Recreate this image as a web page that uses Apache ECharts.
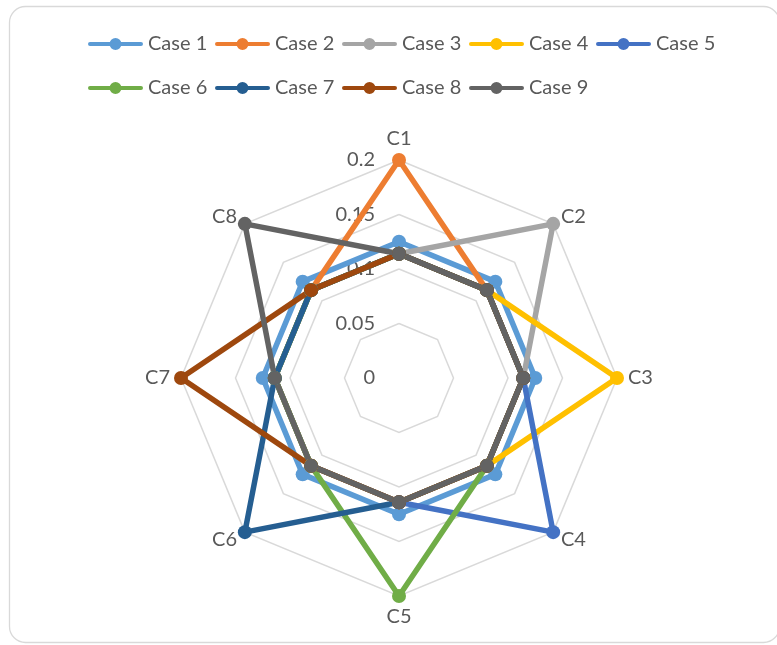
<!DOCTYPE html>
<html>
<head>
<meta charset="utf-8">
<script src="https://cdn.jsdelivr.net/npm/echarts@6/dist/echarts.min.js"></script>
<style>
  html, body { margin: 0; padding: 0; background: #fff; }
  #main { width: 777px; height: 645px; }
</style>
</head>
<body>
<div id="main"></div>
<script>
// axes, clockwise from the top
var categories = ['C1', 'C2', 'C3', 'C4', 'C5', 'C6', 'C7', 'C8']
var caseNames = ['Case 1', 'Case 2', 'Case 3', 'Case 4', 'Case 5', 'Case 6', 'Case 7', 'Case 8', 'Case 9']
var tickValues = [0, 0.05, 0.1, 0.15, 0.2]

var case1 = [0.125, 0.125, 0.125, 0.125, 0.125, 0.125, 0.125, 0.125]
var case2 = [0.2, 0.114, 0.114, 0.114, 0.114, 0.114, 0.114, 0.114]
var case3 = [0.114, 0.2, 0.114, 0.114, 0.114, 0.114, 0.114, 0.114]
var case4 = [0.114, 0.114, 0.2, 0.114, 0.114, 0.114, 0.114, 0.114]
var case5 = [0.114, 0.114, 0.114, 0.2, 0.114, 0.114, 0.114, 0.114]
var case6 = [0.114, 0.114, 0.114, 0.114, 0.2, 0.114, 0.114, 0.114]
var case7 = [0.114, 0.114, 0.114, 0.114, 0.114, 0.2, 0.114, 0.114]
var case8 = [0.114, 0.114, 0.114, 0.114, 0.114, 0.114, 0.2, 0.114]
var case9 = [0.114, 0.114, 0.114, 0.114, 0.114, 0.114, 0.114, 0.2]

var caseValues = [case1, case2, case3, case4, case5, case6, case7, case8, case9]
var colors = ['#5B9BD5', '#ED7D31', '#A5A5A5', '#FFC000', '#4472C4', '#70AD47', '#255E91', '#9E480E', '#636363']

// echarts lays radar axes out counter-clockwise, so walk the list backwards after C1
var order = [0, 7, 6, 5, 4, 3, 2, 1]
var font = 'Lato, "Open Sans", sans-serif'
var maxVal = tickValues[tickValues.length - 1]

// legend marker: line with a dot in the middle
var lineDotIcon = 'path://M2 4H53A2 2 0 0 1 53 8H2A2 2 0 0 1 2 4Z' +
  'M21.5 6A6 6 0 1 1 33.5 6A6 6 0 1 1 21.5 6Z'

var myChart = echarts.init(document.getElementById('main'))

var option = {
  backgroundColor: '#fff',
  color: colors,
  textStyle: { fontFamily: font },
  graphic: [
    {
      type: 'rect',
      shape: { x: 9.5, y: 6.5, width: 770, height: 636, r: 16 },
      style: { fill: 'none', stroke: '#d9d9d9', lineWidth: 1.3 },
      silent: true,
      z: -10
    }
  ],
  legend: {
    data: caseNames,
    left: 88,
    top: 24,
    width: 640,
    padding: 0,
    itemGap: 4,
    itemWidth: 55,
    itemHeight: 12,
    icon: lineDotIcon,
    textStyle: {
      color: '#595959',
      fontSize: 20,
      fontFamily: font,
      width: 63,
      lineHeight: 40
    }
  },
  radar: {
    center: [399, 378],
    radius: 218,
    startAngle: 90,
    splitNumber: tickValues.length - 1,
    shape: 'polygon',
    indicator: order.map(function (i, k) {
      var ind = { name: categories[i], min: 0, max: maxVal }
      if (k === 0) {
        ind.axisLabel = { show: true }
      }
      return ind
    }),
    axisName: {
      color: '#595959',
      fontSize: 20,
      fontFamily: font
    },
    nameGap: 11,
    axisLine: { show: false },
    axisTick: { show: false },
    axisLabel: {
      show: false,
      color: '#595959',
      fontSize: 20,
      fontFamily: font,
      margin: 24,
      showMinLabel: true,
      showMaxLabel: true
    },
    splitLine: { lineStyle: { color: '#d9d9d9', width: 1.5 } },
    splitArea: { show: false }
  },
  series: caseNames.map(function (name, s) {
    return {
      name: name,
      type: 'radar',
      symbol: 'circle',
      symbolSize: 14,
      lineStyle: { width: 5.5, color: colors[s] },
      itemStyle: { color: colors[s] },
      emphasis: { disabled: true },
      data: [{
        name: name,
        value: order.map(function (i) { return caseValues[s][i] }),
        lineStyle: { width: 5.5, color: colors[s] }
      }]
    }
  })
}

myChart.setOption(option, true)
</script>
</body>
</html>
